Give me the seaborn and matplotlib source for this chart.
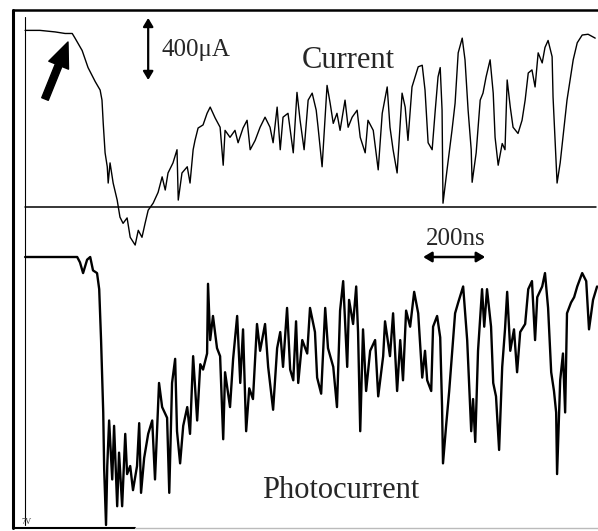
import pandas as pd
import matplotlib
matplotlib.use("Agg")
import matplotlib.pyplot as plt
import seaborn as sns

# Current trace (time in ns, current in uA)
cur_t = [0, 48, 97, 129, 152, 161, 184, 203, 226, 242,
         248, 252, 258, 265, 268, 274, 284, 297, 306, 316,
         329, 339, 355, 365, 377, 387, 397, 413, 429, 442,
         452, 461, 477, 490, 494, 506, 523, 532, 542, 548,
         558, 574, 587, 597, 613, 629, 639, 645, 661, 677,
         687, 703, 716, 726, 742, 758, 774, 790, 800, 813,
         823, 832, 848, 865, 877, 887, 900, 913, 926, 939,
         945, 958, 974, 984, 994, 1006, 1016, 1032, 1042, 1055,
         1071, 1081, 1097, 1106, 1123, 1139, 1152, 1168, 1177, 1187,
         1200, 1216, 1226, 1235, 1248, 1258, 1268, 1281, 1290, 1300,
         1313, 1323, 1332, 1339, 1345, 1348, 1361, 1377, 1387, 1397,
         1410, 1419, 1429, 1439, 1442, 1455, 1468, 1477, 1487, 1500,
         1510, 1516, 1526, 1539, 1548, 1555, 1565, 1574, 1590, 1603,
         1613, 1623, 1635, 1645, 1655, 1668, 1677, 1687, 1700, 1703,
         1710, 1716, 1726, 1735, 1748, 1758, 1768, 1781, 1797, 1816,
         1839]
cur_ua = [1140, 1140, 1130, 1120, 1120, 1090, 1010, 900, 810, 755,
          690, 540, 350, 260, 155, 285, 155, 45, -65, -105,
          -70, -195, -245, -150, -195, -105, -20, 25, 95, 195,
          110, 220, 285, 370, 45, 220, 260, 155, 370, 430,
          510, 530, 605, 645, 575, 515, 270, 495, 450, 495,
          415, 510, 560, 370, 430, 515, 580, 515, 415, 645,
          370, 580, 605, 350, 740, 560, 370, 690, 735, 625,
          515, 260, 785, 670, 540, 605, 495, 690, 515, 580,
          625, 450, 350, 560, 495, 240, 605, 775, 515, 370,
          220, 735, 645, 430, 775, 840, 905, 915, 755, 415,
          370, 625, 840, 900, 625, 25, 240, 495, 670, 995,
          1090, 950, 625, 370, 160, 350, 690, 735, 840, 950,
          735, 450, 270, 410, 370, 820, 645, 515, 475, 560,
          690, 865, 885, 775, 995, 930, 1030, 1075, 970, 710,
          410, 155, 285, 450, 690, 820, 950, 1060, 1110, 1115,
          1090]

# Photocurrent trace (time in ns, arbitrary units)
ph_t = [0, 48, 97, 145, 168, 177, 187, 200, 210, 219,
        232, 239, 245, 252, 255, 261, 265, 271, 281, 287,
        297, 303, 313, 323, 329, 339, 348, 361, 368, 374,
        384, 397, 410, 419, 432, 442, 458, 465, 474, 484,
        490, 500, 510, 523, 532, 542, 555, 565, 574, 587,
        590, 597, 606, 619, 629, 639, 645, 661, 671, 684,
        694, 703, 713, 723, 735, 748, 758, 774, 784, 800,
        813, 823, 832, 845, 855, 865, 874, 881, 894, 910,
        919, 935, 942, 955, 968, 977, 994, 1006, 1016, 1026,
        1039, 1045, 1058, 1068, 1074, 1081, 1090, 1100, 1113, 1129,
        1139, 1155, 1161, 1177, 1187, 1200, 1210, 1219, 1229, 1242,
        1255, 1268, 1281, 1290, 1297, 1310, 1316, 1329, 1339, 1345,
        1348, 1358, 1368, 1377, 1387, 1397, 1413, 1426, 1432, 1439,
        1445, 1452, 1461, 1474, 1481, 1490, 1503, 1510, 1519, 1529,
        1539, 1548, 1555, 1565, 1577, 1587, 1597, 1613, 1623, 1635,
        1645, 1652, 1668, 1677, 1687, 1697, 1706, 1713, 1716, 1726,
        1735, 1742, 1748, 1761, 1771, 1781, 1797, 1810, 1819, 1832,
        1845]
ph_val = [1.00, 1.00, 1.00, 1.00, 1.00, 0.98, 0.94, 0.99, 1.00, 0.95,
          0.94, 0.88, 0.69, 0.42, 0.21, 0.00, 0.22, 0.39, 0.17, 0.37,
          0.07, 0.27, 0.07, 0.34, 0.19, 0.22, 0.13, 0.22, 0.38, 0.12,
          0.25, 0.34, 0.39, 0.17, 0.53, 0.44, 0.40, 0.12, 0.53, 0.62,
          0.35, 0.23, 0.37, 0.44, 0.34, 0.63, 0.39, 0.60, 0.58, 0.64,
          0.90, 0.69, 0.78, 0.66, 0.63, 0.32, 0.57, 0.44, 0.62, 0.78,
          0.53, 0.73, 0.35, 0.51, 0.47, 0.75, 0.65, 0.75, 0.59, 0.43,
          0.66, 0.72, 0.59, 0.81, 0.58, 0.54, 0.76, 0.53, 0.69, 0.64,
          0.81, 0.72, 0.55, 0.49, 0.81, 0.66, 0.59, 0.44, 0.80, 0.91,
          0.59, 0.84, 0.75, 0.89, 0.72, 0.35, 0.73, 0.50, 0.65, 0.69,
          0.48, 0.63, 0.76, 0.63, 0.79, 0.50, 0.69, 0.54, 0.80, 0.74,
          0.87, 0.79, 0.55, 0.65, 0.54, 0.50, 0.74, 0.78, 0.70, 0.44,
          0.23, 0.37, 0.50, 0.64, 0.79, 0.83, 0.89, 0.69, 0.53, 0.35,
          0.47, 0.31, 0.65, 0.88, 0.74, 0.88, 0.74, 0.53, 0.48, 0.28,
          0.59, 0.73, 0.87, 0.65, 0.73, 0.57, 0.72, 0.75, 0.88, 0.91,
          0.69, 0.85, 0.89, 0.94, 0.81, 0.57, 0.50, 0.42, 0.19, 0.54,
          0.64, 0.42, 0.79, 0.83, 0.85, 0.89, 0.94, 0.91, 0.73, 0.84,
          0.89]

# scale bars
scale_ua = 400
scale_ns = 200

df_cur = pd.DataFrame({"t": cur_t, "i": cur_ua})
df_ph = pd.DataFrame({"t": ph_t, "p": ph_val})

sns.set_style("white")
plt.rcParams["font.family"] = ["Liberation Serif", "DejaVu Serif"]

fig = plt.figure(figsize=(5.98, 5.31), dpi=100)
ax = fig.add_axes([0, 0, 1, 1])
ax2 = fig.add_axes([0, 0, 1, 1])
for a in (ax, ax2):
    a.set_axis_off()
    a.patch.set_alpha(0)

# time axis shared, each trace has its own vertical scale
xlim = (-81, 1848)
ax.set_xlim(*xlim)
ax2.set_xlim(*xlim)
ax.set_ylim(-2090, 1336)
ax2.set_ylim(-0.0224, 1.959)

sns.lineplot(data=df_cur, x="t", y="i", ax=ax, color="black", linewidth=1.0,
             estimator=None, sort=False)
sns.lineplot(data=df_ph, x="t", y="p", ax=ax2, color="black", linewidth=1.7,
             estimator=None, sort=False)

# zero line of the current and the trace start line
ax.axhline(0, xmin=25 / 598, xmax=596 / 598, color="black", linewidth=1.1)
ax.axvline(0, ymin=6 / 531, ymax=1 - 17 / 531, color="black", linewidth=0.8)

# frame
tf = fig.transFigure
fig.add_artist(plt.Line2D([13 / 598, 1], [1 - 10 / 531] * 2, transform=tf, color="black", lw=1.8))
fig.add_artist(plt.Line2D([13 / 598] * 2, [1 - 10 / 531, 1 - 528 / 531], transform=tf, color="black", lw=2.2))
fig.add_artist(plt.Line2D([13 / 598, 135 / 598], [1 - 528 / 531] * 2, transform=tf, color="black", lw=1.5))
fig.add_artist(plt.Line2D([135 / 598, 1], [1 - 528 / 531] * 2, transform=tf, color="#bbbbbb", lw=1.0))

# scale bars
ax.annotate("", xy=(397, 1220), xytext=(397, 1220 - scale_ua),
            arrowprops=dict(arrowstyle="<|-|>,head_length=0.5,head_width=0.3",
                            color="black", lw=1.6, shrinkA=0, shrinkB=0))
ax2.annotate("", xy=(1284 + scale_ns, 1.0), xytext=(1284, 1.0),
             arrowprops=dict(arrowstyle="<|-|>,head_length=0.5,head_width=0.3",
                             color="black", lw=1.8, shrinkA=0, shrinkB=0))

# trigger arrow
ax.annotate("", xy=(68 / 598, 1 - 42 / 531), xytext=(45 / 598, 1 - 99 / 531),
            xycoords="figure fraction", textcoords="figure fraction",
            arrowprops=dict(arrowstyle="simple,head_length=1.0,head_width=0.85,tail_width=0.28",
                            color="black", mutation_scale=18, shrinkA=0, shrinkB=0))

# labels
fig.text(162 / 598, 1 - 56 / 531, "400\u03bcA", fontsize=18, ha="left", va="baseline")
fig.text(302 / 598, 1 - 68 / 531, "Current", fontsize=22, ha="left", va="baseline")
fig.text(426 / 598, 1 - 245 / 531, "200ns", fontsize=18, ha="left", va="baseline")
fig.text(262 / 598, 1 - 498 / 531, "Photocurrent", fontsize=22, ha="left", va="baseline")
fig.text(21 / 598, 1 - 524 / 531, "7V", fontsize=6, ha="left", va="baseline", color="#333333")

fig.savefig("out.png", dpi=100)
